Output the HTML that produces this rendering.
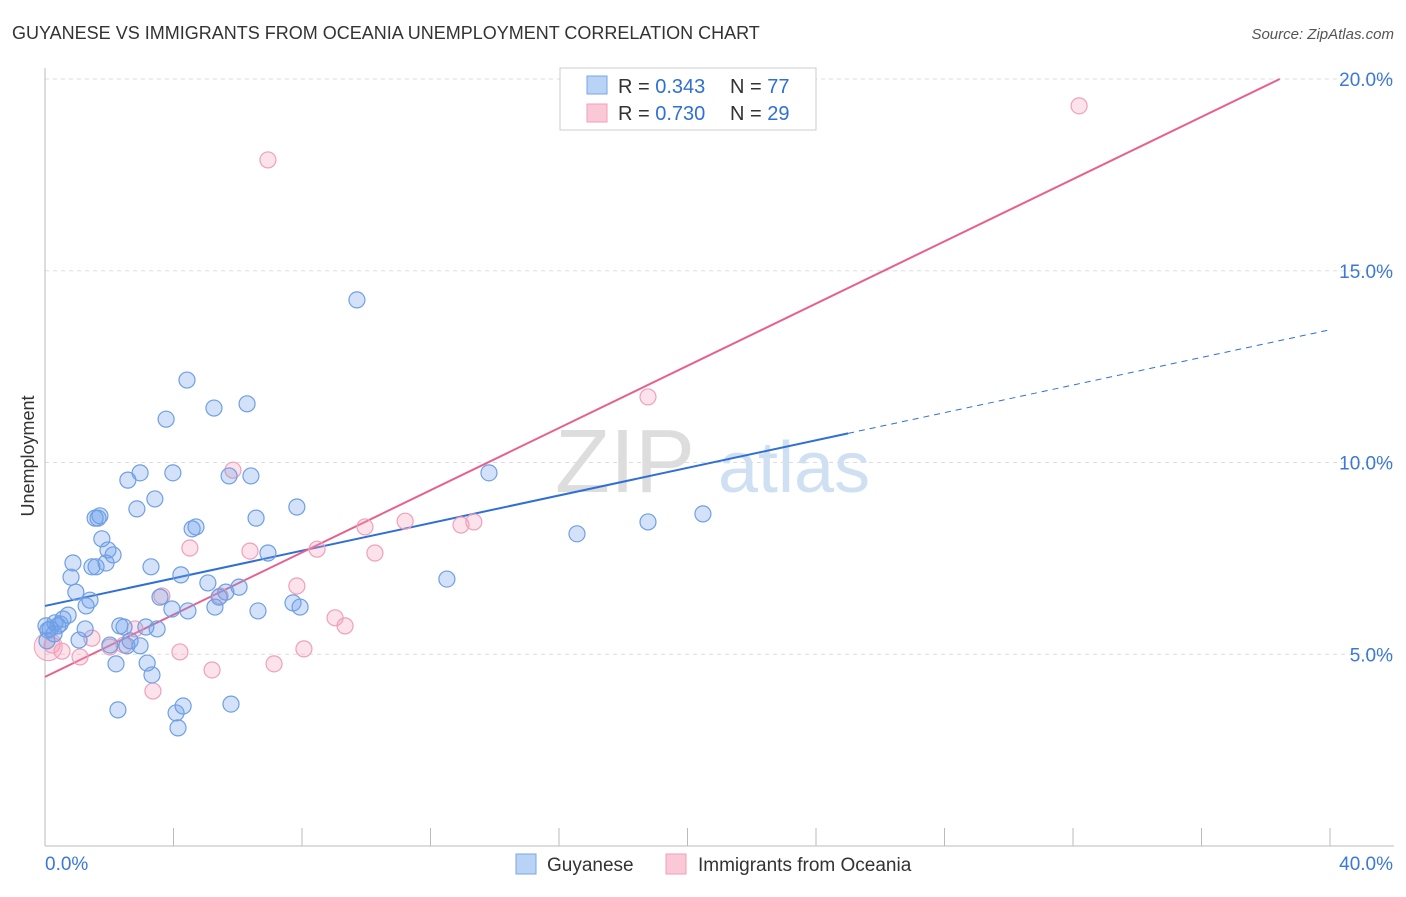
<!DOCTYPE html>
<html><head><meta charset="utf-8"><style>
body{margin:0;background:#fff;font-family:"Liberation Sans",sans-serif;}
svg text{font-family:"Liberation Sans",sans-serif;}
</style></head><body>
<svg id="chart" width="1406" height="892">
<text x="12" y="39" font-size="18" fill="#333">GUYANESE VS IMMIGRANTS FROM OCEANIA UNEMPLOYMENT CORRELATION CHART</text>
<text x="1394" y="39" font-size="15" fill="#555" text-anchor="end" font-style="italic">Source: ZipAtlas.com</text>
<text x="34" y="456" font-size="18" fill="#333" text-anchor="middle" transform="rotate(-90 34 456)">Unemployment</text>
<g>
<text x="555" y="492" font-size="90" fill="#ddd" font-family="Liberation Serif">ZIP</text>
<text x="718" y="492" font-size="72" fill="#cfe0f3">atlas</text>
</g>
<g id="grid"></g><g id="axes"></g><g id="lines"></g><g id="points"></g>
<g>
<rect x="560" y="68" width="256" height="62" fill="#fff" stroke="#ccc"/>
<rect x="587" y="76" width="20" height="18" fill="#b8d3f5" stroke="#7aa6e6"/>
<rect x="587" y="104" width="20" height="18" fill="#fac8d6" stroke="#f0a0b8"/>
<text x="618" y="93" font-size="20" fill="#333">R = <tspan fill="#2f6fd6">0.343</tspan><tspan x="730">N = </tspan><tspan fill="#2f6fd6">77</tspan></text>
<text x="618" y="120" font-size="20" fill="#333">R = <tspan fill="#2f6fd6">0.730</tspan><tspan x="730">N = </tspan><tspan fill="#2f6fd6">29</tspan></text>
</g>
<g>
<rect x="516" y="854" width="20" height="20" fill="#b8d3f5" stroke="#7aa6e6"/>
<text x="547" y="871" font-size="19" fill="#333">Guyanese</text>
<rect x="666" y="854" width="20" height="20" fill="#fac8d6" stroke="#f0a0b8"/>
<text x="698" y="871" font-size="19" fill="#333">Immigrants from Oceania</text>
</g>
</svg>
<script>
const blueX=[9.71,4.42,3.77,5.26,6.29,2.58,3.98,5.73,6.41,2.96,3.42,2.86,1.65,1.71,4.58,4.70,6.57,7.84,13.82,16.56,18.77,20.48,12.51,1.77,1.96,2.12,0.87,1.46,1.59,1.90,3.30,4.23,0.81,5.07,6.94,6.04,5.63,5.42,0.96,1.40,1.28,3.58,3.95,4.45,5.29,6.63,7.72,7.94,0.72,0.56,0.31,0.40,1.25,0.16,0.28,0.03,0.06,1.06,2.33,2.46,3.14,3.49,2.65,2.02,2.96,2.55,2.21,3.18,3.33,2.27,4.30,4.08,4.14,5.79,0.09,0.47,1.56];
const blueY=[14.24,12.15,11.13,11.42,11.53,9.54,9.73,9.65,9.65,9.73,9.05,8.79,8.55,8.61,8.27,8.32,8.55,8.84,9.73,8.14,8.45,8.66,6.96,8.01,7.72,7.59,7.38,7.28,7.28,7.38,7.28,7.07,7.01,6.86,7.64,6.75,6.62,6.49,6.62,6.41,6.26,6.49,6.18,6.13,6.23,6.13,6.34,6.23,6.02,5.92,5.82,5.74,5.66,5.66,5.53,5.74,5.35,5.37,5.74,5.71,5.71,5.66,5.35,5.24,5.22,5.22,4.75,4.77,4.46,3.55,3.65,3.47,3.08,3.70,5.63,5.79,8.55];
const pinkX=[32.19,6.94,18.77,5.85,4.51,6.38,8.47,10.27,9.96,11.21,12.95,13.35,7.84,5.45,3.64,9.03,9.34,8.06,4.20,5.20,7.13,3.36,1.09,1.46,2.46,2.02,0.53,0.22,2.80];
const pinkY=[19.30,17.89,11.71,9.80,7.77,7.69,7.74,7.64,8.32,8.47,8.37,8.45,6.78,6.52,6.52,5.95,5.74,5.14,5.06,4.59,4.75,4.04,4.93,5.42,5.24,5.19,5.08,5.24,5.66];
const yTicks=[5,10,15,20];
const yTickLabels=["5.0%","10.0%","15.0%","20.0%"];
const blueFit=[6.26,0.18];
const blueSolidEnd=25.0;
const pinkFit=[4.41,0.4056];
const NS="http://www.w3.org/2000/svg";
const sx=v=>45+v/40*1285;
const sy=v=>846-v*38.35;
function mk(p,t,a){const e=document.createElementNS(NS,t);for(const k in a)e.setAttribute(k,a[k]);document.getElementById(p).appendChild(e);return e;}
yTicks.forEach((t,i)=>{
 const g=mk('grid','line',{x1:45,x2:1394,y1:sy(t),y2:sy(t),stroke:'#ddd','stroke-dasharray':'4,4'});
 
 
 const l=mk('axes','text',{x:1393,y:sy(t)+7,'font-size':19,fill:'#3b78d8','text-anchor':'end'});
 l.textContent=yTickLabels[i];
 
 
});
const tg=mk('grid','line',{x1:45,x2:1394,y1:79,y2:79,stroke:'#ddd','stroke-dasharray':'4,4'});


const ya=mk('axes','line',{x1:45,x2:45,y1:68,y2:846,stroke:'#bbb'});


const xa=mk('axes','line',{x1:45,x2:1394,y1:846,y2:846,stroke:'#bbb'});


for(let i=0;i<=10;i++){
 const t=mk('axes','line',{x1:sx(i*4),x2:sx(i*4),y1:828,y2:846,stroke:'#bbb'});
 
 
}
const x0=mk('axes','text',{x:45,y:870,'font-size':19,fill:'#3b78d8'});x0.textContent='0.0%';


const x1=mk('axes','text',{x:1393,y:870,'font-size':19,fill:'#3b78d8','text-anchor':'end'});x1.textContent='40.0%';


const bl=mk('lines','line',{x1:sx(0),y1:sy(blueFit[0]),x2:sx(blueSolidEnd),y2:sy(blueFit[0]+blueFit[1]*blueSolidEnd),stroke:'#2f6fd6','stroke-width':2});


const bd=mk('lines','line',{x1:sx(blueSolidEnd),y1:sy(blueFit[0]+blueFit[1]*blueSolidEnd),x2:sx(40),y2:sy(blueFit[0]+blueFit[1]*40),stroke:'#2f6fd6','stroke-width':1,'stroke-dasharray':'6,5'});


const pxEnd=(20-pinkFit[0])/pinkFit[1];
const pl=mk('lines','line',{x1:sx(0),y1:sy(pinkFit[0]),x2:sx(pxEnd),y2:sy(20),stroke:'#e8608c','stroke-width':2});


const big=mk('points','circle',{cx:sx(0.1),cy:sy(5.2),r:14,fill:'rgba(245,160,185,0.3)',stroke:'#f0a0b8'});


pinkX.forEach((x,i)=>{
 const c=mk('points','circle',{cx:sx(x),cy:sy(pinkY[i]),r:8,fill:'rgba(245,160,185,0.3)',stroke:'#f0a0b8','stroke-width':1.2});
 
 
});
blueX.forEach((x,i)=>{
 const c=mk('points','circle',{cx:sx(x),cy:sy(blueY[i]),r:8,fill:'rgba(110,160,235,0.3)',stroke:'#6f9fe3','stroke-width':1.2});
 
 
});
</script>
</body></html>
